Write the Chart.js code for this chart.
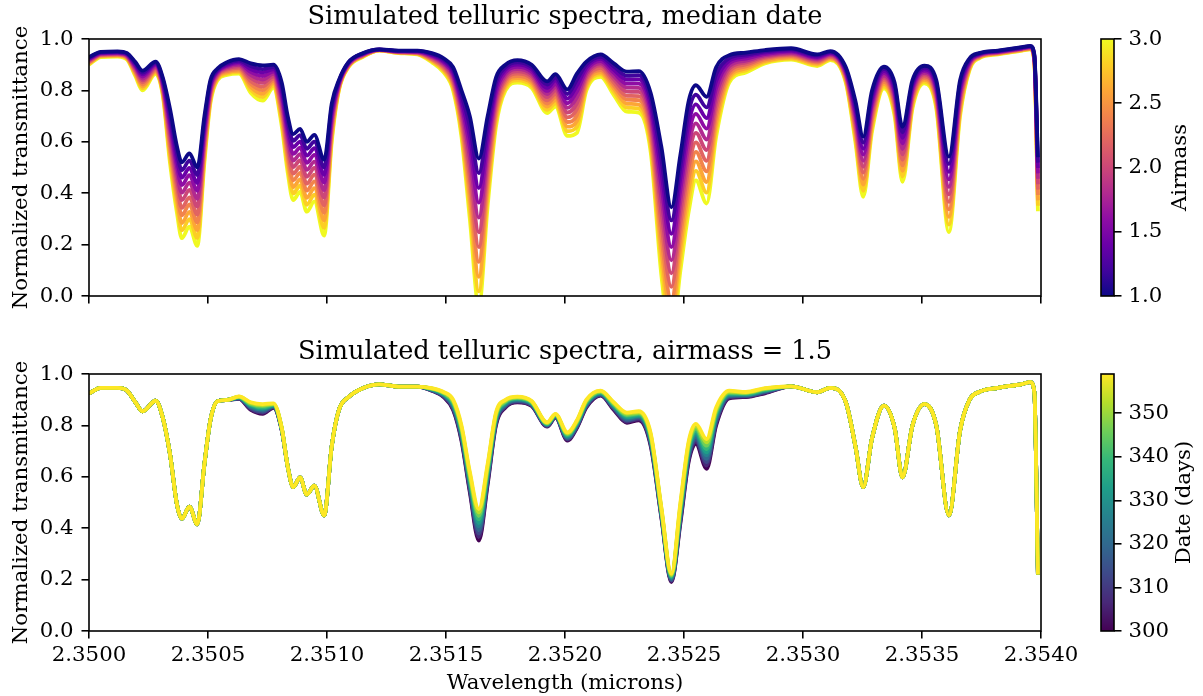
<!DOCTYPE html>
<html><head><meta charset="utf-8">
<script src="https://cdn.jsdelivr.net/npm/chart.js@4/dist/chart.umd.min.js"></script>
<style>
html,body{margin:0;padding:0;background:#fff;width:1203px;height:696px;overflow:hidden;position:relative;}
canvas{position:absolute;}
</style></head><body>
<canvas id="c1" width="1100" height="317" style="left:0;top:0"></canvas>
<canvas id="c2" width="1100" height="361" style="left:0;top:335px"></canvas>
<canvas id="cb1" width="113" height="317" style="left:1090px;top:0"></canvas>
<canvas id="cb2" width="113" height="361" style="left:1090px;top:335px"></canvas>
<script>
// ---------- data ----------
const wavelength = [2.35,2.35005,2.35012,2.35016,2.350195,2.350225,2.35028,2.35031,2.35034,2.35037,
2.35039,2.350422,2.350455,2.350485,2.35051,2.35054,2.35058,2.35063,2.35068,2.35073,
2.350775,2.35081,2.350835,2.350858,2.350887,2.350915,2.350947,2.350988,2.35102,2.35105,
2.35109,2.35115,2.35122,2.3513,2.35138,2.35144,2.35149,2.35153,2.351565,2.3516,
2.351638,2.351675,2.35171,2.35175,2.3518,2.35186,2.351925,2.35196,2.35201,2.35205,
2.35209,2.35215,2.352205,2.35226,2.35231,2.35236,2.352405,2.352447,2.352485,2.35252,
2.35255,2.352595,2.352635,2.35269,2.35276,2.35284,2.35295,2.35306,2.353115,2.35318,
2.35322,2.353253,2.35329,2.35334,2.353385,2.353418,2.35346,2.35351,2.35356,2.353613,
2.35366,2.3537,2.35374,2.35382,2.35392,2.353955,2.353972,2.353987];

const airmass = [1.0,1.2,1.4,1.6,1.8,2.0,2.2,2.4,2.6,2.8,3.0];
const dates = [300,307,313,320,326,333,339,346,352,359];

const am10 = [0.93,0.95,0.952,0.945,0.91,0.877,0.912,0.85,0.73,0.58,0.52,0.555,0.5,0.7,0.84,0.885,0.91,0.922,0.905,0.897,0.9,0.83,0.7,0.63,0.65,0.6,0.627,0.53,0.75,0.84,0.91,0.945,0.96,0.955,0.955,0.945,0.925,0.89,0.8,0.7,0.535,0.7,0.85,0.9,0.918,0.9,0.835,0.863,0.804,0.865,0.912,0.94,0.905,0.873,0.875,0.79,0.58,0.345,0.55,0.76,0.82,0.775,0.89,0.937,0.947,0.957,0.964,0.94,0.953,0.89,0.76,0.62,0.8,0.892,0.83,0.658,0.84,0.896,0.84,0.542,0.84,0.925,0.945,0.955,0.968,0.973,0.94,0.54];
const am12 = [0.927,0.948,0.95,0.943,0.905,0.869,0.907,0.843,0.709,0.554,0.49,0.527,0.47,0.682,0.831,0.88,0.905,0.916,0.894,0.883,0.891,0.813,0.678,0.604,0.626,0.573,0.601,0.5,0.735,0.836,0.908,0.944,0.96,0.954,0.954,0.942,0.92,0.881,0.782,0.66,0.478,0.665,0.831,0.89,0.909,0.891,0.823,0.85,0.786,0.842,0.901,0.931,0.893,0.857,0.859,0.767,0.53,0.294,0.505,0.717,0.783,0.734,0.863,0.926,0.939,0.952,0.96,0.936,0.95,0.884,0.744,0.597,0.784,0.884,0.817,0.637,0.829,0.889,0.829,0.513,0.826,0.921,0.943,0.954,0.967,0.972,0.937,0.519];
const am14 = [0.924,0.946,0.948,0.94,0.899,0.862,0.902,0.836,0.688,0.528,0.461,0.498,0.439,0.664,0.822,0.876,0.9,0.911,0.882,0.87,0.882,0.796,0.656,0.579,0.601,0.546,0.575,0.471,0.72,0.832,0.906,0.942,0.959,0.953,0.952,0.938,0.914,0.872,0.764,0.62,0.42,0.63,0.812,0.88,0.9,0.882,0.81,0.838,0.768,0.819,0.89,0.923,0.88,0.842,0.843,0.744,0.48,0.242,0.46,0.674,0.746,0.692,0.836,0.916,0.932,0.947,0.955,0.931,0.946,0.878,0.728,0.573,0.768,0.875,0.804,0.615,0.818,0.882,0.818,0.483,0.812,0.916,0.941,0.952,0.965,0.97,0.934,0.498];
const am16 = [0.921,0.944,0.946,0.938,0.894,0.854,0.898,0.829,0.667,0.502,0.432,0.47,0.409,0.646,0.813,0.872,0.895,0.905,0.871,0.856,0.873,0.779,0.634,0.553,0.577,0.518,0.549,0.442,0.705,0.828,0.904,0.941,0.959,0.952,0.951,0.935,0.909,0.863,0.746,0.58,0.363,0.595,0.793,0.87,0.892,0.873,0.798,0.825,0.75,0.796,0.878,0.914,0.868,0.826,0.826,0.721,0.43,0.19,0.415,0.631,0.709,0.651,0.809,0.905,0.924,0.941,0.951,0.927,0.943,0.872,0.712,0.55,0.752,0.867,0.791,0.594,0.807,0.875,0.807,0.454,0.798,0.912,0.939,0.951,0.964,0.969,0.931,0.477];
const am18 = [0.918,0.942,0.944,0.935,0.888,0.846,0.893,0.822,0.646,0.476,0.402,0.441,0.378,0.628,0.804,0.867,0.89,0.899,0.859,0.842,0.864,0.762,0.612,0.527,0.552,0.491,0.523,0.412,0.69,0.824,0.902,0.939,0.958,0.951,0.949,0.931,0.903,0.854,0.728,0.54,0.305,0.56,0.774,0.86,0.883,0.864,0.786,0.813,0.732,0.773,0.867,0.905,0.856,0.811,0.81,0.698,0.38,0.139,0.37,0.588,0.672,0.609,0.782,0.894,0.916,0.936,0.946,0.922,0.939,0.866,0.696,0.526,0.736,0.858,0.778,0.572,0.796,0.868,0.796,0.425,0.784,0.907,0.937,0.949,0.963,0.968,0.928,0.456];
const am20 = [0.915,0.94,0.942,0.933,0.883,0.839,0.888,0.815,0.625,0.45,0.373,0.413,0.348,0.61,0.795,0.863,0.885,0.894,0.848,0.829,0.855,0.745,0.59,0.502,0.528,0.464,0.498,0.383,0.675,0.82,0.9,0.938,0.958,0.95,0.948,0.928,0.898,0.845,0.71,0.5,0.248,0.525,0.755,0.85,0.874,0.855,0.774,0.8,0.714,0.75,0.856,0.897,0.844,0.795,0.794,0.675,0.33,0.088,0.325,0.545,0.635,0.568,0.755,0.884,0.909,0.931,0.942,0.918,0.936,0.86,0.68,0.503,0.72,0.85,0.765,0.551,0.785,0.862,0.785,0.396,0.77,0.903,0.935,0.948,0.962,0.967,0.925,0.435];
const am22 = [0.912,0.938,0.94,0.93,0.877,0.831,0.883,0.808,0.604,0.424,0.343,0.384,0.317,0.592,0.786,0.858,0.88,0.888,0.836,0.815,0.846,0.728,0.568,0.476,0.503,0.437,0.472,0.353,0.66,0.816,0.898,0.936,0.957,0.949,0.946,0.924,0.892,0.836,0.692,0.46,0.19,0.49,0.736,0.84,0.865,0.846,0.761,0.787,0.695,0.727,0.845,0.888,0.831,0.779,0.778,0.652,0.28,0.036,0.28,0.502,0.598,0.526,0.728,0.873,0.901,0.926,0.938,0.913,0.932,0.854,0.664,0.48,0.704,0.842,0.752,0.53,0.774,0.855,0.774,0.366,0.756,0.898,0.933,0.946,0.96,0.965,0.922,0.414];
const am24 = [0.909,0.936,0.938,0.928,0.872,0.823,0.878,0.801,0.583,0.398,0.314,0.356,0.287,0.574,0.777,0.854,0.875,0.882,0.825,0.801,0.837,0.711,0.546,0.45,0.479,0.41,0.446,0.324,0.645,0.812,0.896,0.935,0.957,0.948,0.945,0.921,0.887,0.827,0.674,0.42,0.133,0.455,0.717,0.83,0.856,0.837,0.749,0.775,0.677,0.704,0.834,0.879,0.819,0.764,0.762,0.629,0.23,-0.016,0.235,0.459,0.561,0.485,0.701,0.862,0.893,0.921,0.933,0.909,0.929,0.848,0.648,0.456,0.688,0.833,0.739,0.508,0.763,0.848,0.763,0.337,0.742,0.894,0.931,0.945,0.959,0.964,0.919,0.393];
const am26 = [0.906,0.934,0.936,0.925,0.866,0.815,0.874,0.794,0.562,0.372,0.284,0.327,0.256,0.556,0.768,0.849,0.87,0.876,0.813,0.787,0.828,0.694,0.524,0.424,0.454,0.382,0.42,0.294,0.63,0.808,0.894,0.933,0.956,0.947,0.943,0.917,0.881,0.818,0.656,0.38,0.075,0.42,0.698,0.82,0.848,0.828,0.737,0.762,0.659,0.681,0.822,0.87,0.807,0.748,0.745,0.606,0.18,-0.067,0.19,0.416,0.524,0.443,0.674,0.851,0.885,0.915,0.929,0.904,0.925,0.842,0.632,0.433,0.672,0.825,0.726,0.487,0.752,0.841,0.752,0.308,0.728,0.889,0.929,0.943,0.958,0.963,0.916,0.372];
const am28 = [0.903,0.932,0.934,0.923,0.861,0.808,0.869,0.787,0.541,0.346,0.255,0.299,0.226,0.538,0.759,0.845,0.865,0.871,0.802,0.774,0.819,0.677,0.502,0.399,0.43,0.355,0.394,0.265,0.615,0.804,0.892,0.932,0.956,0.946,0.942,0.914,0.876,0.809,0.638,0.34,0.018,0.385,0.679,0.81,0.839,0.819,0.724,0.75,0.641,0.658,0.811,0.862,0.794,0.733,0.729,0.583,0.13,-0.119,0.145,0.373,0.487,0.402,0.647,0.841,0.878,0.91,0.924,0.9,0.922,0.836,0.616,0.409,0.656,0.816,0.713,0.465,0.741,0.834,0.741,0.278,0.714,0.885,0.927,0.942,0.956,0.961,0.913,0.351];
const am30 = [0.9,0.93,0.932,0.92,0.855,0.8,0.864,0.78,0.52,0.32,0.225,0.27,0.195,0.52,0.75,0.84,0.86,0.865,0.79,0.76,0.81,0.66,0.48,0.373,0.405,0.328,0.368,0.235,0.6,0.8,0.89,0.93,0.955,0.945,0.94,0.91,0.87,0.8,0.62,0.3,-0.04,0.35,0.66,0.8,0.83,0.81,0.712,0.737,0.623,0.635,0.8,0.853,0.782,0.717,0.713,0.56,0.08,-0.17,0.1,0.33,0.45,0.36,0.62,0.83,0.87,0.905,0.92,0.895,0.918,0.83,0.6,0.386,0.64,0.808,0.7,0.444,0.73,0.827,0.73,0.249,0.7,0.88,0.925,0.94,0.955,0.96,0.91,0.33];

const d300 = [0.925,0.946,0.946,0.935,0.89,0.855,0.896,0.83,0.69,0.49,0.437,0.484,0.415,0.65,0.82,0.894,0.899,0.903,0.86,0.845,0.868,0.78,0.64,0.56,0.598,0.531,0.566,0.45,0.72,0.86,0.91,0.945,0.96,0.951,0.951,0.935,0.91,0.86,0.74,0.54,0.352,0.57,0.8,0.87,0.89,0.875,0.795,0.83,0.741,0.79,0.87,0.916,0.86,0.81,0.82,0.72,0.44,0.19,0.42,0.66,0.728,0.631,0.8,0.905,0.91,0.925,0.952,0.929,0.946,0.89,0.72,0.56,0.75,0.877,0.79,0.598,0.8,0.883,0.8,0.45,0.78,0.9,0.93,0.946,0.961,0.968,0.93,0.22];
const d307 = [0.925,0.946,0.946,0.935,0.89,0.855,0.896,0.83,0.69,0.49,0.437,0.484,0.415,0.65,0.82,0.894,0.899,0.904,0.863,0.849,0.87,0.781,0.64,0.56,0.598,0.531,0.566,0.45,0.72,0.86,0.91,0.945,0.96,0.951,0.951,0.936,0.912,0.864,0.747,0.549,0.366,0.579,0.806,0.873,0.892,0.877,0.797,0.832,0.745,0.793,0.873,0.918,0.863,0.814,0.824,0.726,0.444,0.194,0.429,0.669,0.737,0.644,0.808,0.908,0.912,0.927,0.952,0.929,0.946,0.89,0.72,0.56,0.75,0.877,0.79,0.598,0.8,0.883,0.8,0.45,0.78,0.9,0.93,0.946,0.961,0.968,0.93,0.22];
const d313 = [0.925,0.946,0.946,0.935,0.89,0.855,0.896,0.83,0.69,0.49,0.437,0.484,0.415,0.65,0.82,0.894,0.899,0.905,0.867,0.853,0.872,0.782,0.64,0.56,0.598,0.531,0.566,0.45,0.72,0.86,0.91,0.945,0.96,0.951,0.951,0.937,0.914,0.869,0.753,0.558,0.379,0.588,0.811,0.877,0.895,0.879,0.799,0.833,0.748,0.797,0.877,0.92,0.867,0.819,0.828,0.731,0.449,0.197,0.438,0.678,0.745,0.657,0.816,0.912,0.914,0.929,0.952,0.929,0.946,0.89,0.72,0.56,0.75,0.877,0.79,0.598,0.8,0.883,0.8,0.45,0.78,0.9,0.93,0.946,0.961,0.968,0.93,0.22];
const d320 = [0.925,0.946,0.946,0.935,0.89,0.855,0.896,0.83,0.69,0.49,0.437,0.484,0.415,0.65,0.82,0.894,0.899,0.906,0.87,0.858,0.874,0.783,0.64,0.56,0.598,0.531,0.566,0.45,0.72,0.86,0.91,0.945,0.96,0.951,0.951,0.938,0.917,0.873,0.76,0.567,0.393,0.597,0.817,0.88,0.897,0.882,0.801,0.835,0.752,0.8,0.88,0.922,0.87,0.823,0.832,0.737,0.453,0.201,0.447,0.687,0.754,0.67,0.823,0.915,0.917,0.932,0.952,0.929,0.946,0.89,0.72,0.56,0.75,0.877,0.79,0.598,0.8,0.883,0.8,0.45,0.78,0.9,0.93,0.946,0.961,0.968,0.93,0.22];
const d326 = [0.925,0.946,0.946,0.935,0.89,0.855,0.896,0.83,0.69,0.49,0.437,0.484,0.415,0.65,0.82,0.894,0.899,0.907,0.873,0.862,0.876,0.784,0.64,0.56,0.598,0.531,0.566,0.45,0.72,0.86,0.91,0.945,0.96,0.951,0.951,0.939,0.919,0.878,0.767,0.576,0.407,0.606,0.822,0.883,0.9,0.884,0.803,0.837,0.755,0.803,0.883,0.924,0.873,0.828,0.836,0.742,0.458,0.205,0.456,0.696,0.763,0.683,0.831,0.918,0.919,0.934,0.952,0.929,0.946,0.89,0.72,0.56,0.75,0.877,0.79,0.598,0.8,0.883,0.8,0.45,0.78,0.9,0.93,0.946,0.961,0.968,0.93,0.22];
const d333 = [0.925,0.946,0.946,0.935,0.89,0.855,0.896,0.83,0.69,0.49,0.437,0.484,0.415,0.65,0.82,0.894,0.899,0.909,0.877,0.866,0.878,0.786,0.64,0.56,0.598,0.531,0.566,0.45,0.72,0.86,0.91,0.945,0.96,0.951,0.951,0.941,0.921,0.882,0.773,0.584,0.42,0.614,0.828,0.887,0.902,0.886,0.804,0.838,0.759,0.807,0.887,0.927,0.877,0.832,0.839,0.748,0.462,0.208,0.464,0.704,0.771,0.695,0.839,0.922,0.921,0.936,0.952,0.929,0.946,0.89,0.72,0.56,0.75,0.877,0.79,0.598,0.8,0.883,0.8,0.45,0.78,0.9,0.93,0.946,0.961,0.968,0.93,0.22];
const d339 = [0.925,0.946,0.946,0.935,0.89,0.855,0.896,0.83,0.69,0.49,0.437,0.484,0.415,0.65,0.82,0.894,0.899,0.91,0.88,0.87,0.88,0.787,0.64,0.56,0.598,0.531,0.566,0.45,0.72,0.86,0.91,0.945,0.96,0.951,0.951,0.942,0.923,0.887,0.78,0.593,0.434,0.623,0.833,0.89,0.905,0.888,0.806,0.84,0.762,0.81,0.89,0.929,0.88,0.837,0.843,0.753,0.467,0.212,0.473,0.713,0.78,0.708,0.847,0.925,0.923,0.938,0.952,0.929,0.946,0.89,0.72,0.56,0.75,0.877,0.79,0.598,0.8,0.883,0.8,0.45,0.78,0.9,0.93,0.946,0.961,0.968,0.93,0.22];
const d346 = [0.925,0.946,0.946,0.935,0.89,0.855,0.896,0.83,0.69,0.49,0.437,0.484,0.415,0.65,0.82,0.894,0.899,0.911,0.883,0.875,0.882,0.788,0.64,0.56,0.598,0.531,0.566,0.45,0.72,0.86,0.91,0.945,0.96,0.951,0.951,0.943,0.926,0.891,0.787,0.602,0.448,0.632,0.839,0.893,0.907,0.891,0.808,0.842,0.766,0.813,0.893,0.931,0.883,0.841,0.847,0.759,0.471,0.216,0.482,0.722,0.789,0.721,0.854,0.928,0.926,0.941,0.952,0.929,0.946,0.89,0.72,0.56,0.75,0.877,0.79,0.598,0.8,0.883,0.8,0.45,0.78,0.9,0.93,0.946,0.961,0.968,0.93,0.22];
const d352 = [0.925,0.946,0.946,0.935,0.89,0.855,0.896,0.83,0.69,0.49,0.437,0.484,0.415,0.65,0.82,0.894,0.899,0.912,0.887,0.879,0.884,0.789,0.64,0.56,0.598,0.531,0.566,0.45,0.72,0.86,0.91,0.945,0.96,0.951,0.951,0.944,0.928,0.896,0.793,0.611,0.461,0.641,0.844,0.897,0.91,0.893,0.81,0.843,0.769,0.817,0.897,0.933,0.887,0.846,0.851,0.764,0.476,0.219,0.491,0.731,0.797,0.734,0.862,0.932,0.928,0.943,0.952,0.929,0.946,0.89,0.72,0.56,0.75,0.877,0.79,0.598,0.8,0.883,0.8,0.45,0.78,0.9,0.93,0.946,0.961,0.968,0.93,0.22];
const d359 = [0.925,0.946,0.946,0.935,0.89,0.855,0.896,0.83,0.69,0.49,0.437,0.484,0.415,0.65,0.82,0.894,0.899,0.913,0.89,0.883,0.886,0.79,0.64,0.56,0.598,0.531,0.566,0.45,0.72,0.86,0.91,0.945,0.96,0.951,0.951,0.945,0.93,0.9,0.8,0.62,0.475,0.65,0.85,0.9,0.912,0.895,0.812,0.845,0.773,0.82,0.9,0.935,0.89,0.85,0.855,0.77,0.48,0.223,0.5,0.74,0.806,0.747,0.87,0.935,0.93,0.945,0.952,0.929,0.946,0.89,0.72,0.56,0.75,0.877,0.79,0.598,0.8,0.883,0.8,0.45,0.78,0.9,0.93,0.946,0.961,0.968,0.93,0.22];

const xTicks = [2.35,2.3505,2.351,2.3515,2.352,2.3525,2.353,2.3535,2.354];
const yTicks = [0,0.2,0.4,0.6,0.8,1.0];
const airmassTicks = [1.0,1.5,2.0,2.5,3.0];
const dateTicks = [300,310,320,330,340,350];
const dateRange = [300,359];

// ---------- styles ----------
const FONT = "'DejaVu Serif', 'Liberation Serif', serif";
Chart.defaults.font.family = FONT;
Chart.defaults.color = '#000';
const plasma = ['#0d0887','#41049d','#6a00a8','#8f0da4','#b12a90','#cc4778','#e16462','#f2844b','#fca636','#fcce25','#f0f921'];
const viridis = ['#440154','#482878','#3e4989','#31688e','#26828e','#1f9e89','#35b779','#6ece58','#b5de2b','#fde725'];
const TICK = 21.3, LW = 1.6, TL = 7.5, LINE = 3.8;

const frame = {
  id: 'frame',
  afterDatasetsDraw(chart) {
    const a = chart.chartArea, ctx = chart.ctx;
    ctx.save(); ctx.strokeStyle = '#000'; ctx.lineWidth = LW;
    ctx.strokeRect(a.left, a.top, a.right - a.left, a.bottom - a.top);
    ctx.restore();
  }
};

function mainChart(id, title, series, colors, showX, xHeight) {
  const datasets = series.map((s, i) => ({
    data: wavelength.map((w, j) => ({x: w, y: s[j]})),
    borderColor: colors[i], borderWidth: LINE, pointRadius: 0, fill: false,
    cubicInterpolationMode: 'monotone', borderJoinStyle: 'round', borderCapStyle: 'butt', clip: 0
  }));
  const gridOpt = {display: true, drawOnChartArea: false, drawTicks: true, tickLength: TL,
    color: '#000', tickColor: '#000', lineWidth: LW, tickWidth: LW};
  return new Chart(document.getElementById(id), {
    type: 'line',
    data: {datasets},
    options: {
      responsive: false, animation: false, devicePixelRatio: 1,
      layout: {padding: {left: 0, right: 59, top: 0, bottom: 0}},
      plugins: {
        legend: {display: false}, tooltip: {enabled: false},
        title: {display: true, text: title, fullSize: false, color: '#000',
          font: {family: FONT, size: 25.6, weight: 'normal', lineHeight: 1.2},
          padding: {top: 2, bottom: 6.28}}
      },
      scales: {
        x: {type: 'linear', min: xTicks[0], max: xTicks[xTicks.length - 1],
          afterBuildTicks: s => { s.ticks = xTicks.map(v => ({value: v})); },
          ticks: {display: showX, callback: v => Number(v).toFixed(4), font: {size: TICK},
            color: '#000', padding: 4.5, maxRotation: 0, autoSkip: false},
          grid: gridOpt, border: {display: false},
          title: {display: showX, text: 'Wavelength (microns)', color: '#000',
            font: {size: TICK}, padding: {top: 0, bottom: 0}},
          afterFit: s => { s.height = xHeight; }},
        y: {type: 'linear', min: 0, max: 1,
          afterBuildTicks: s => { s.ticks = yTicks.map(v => ({value: v})); },
          ticks: {callback: v => Number(v).toFixed(1), font: {size: TICK}, color: '#000', padding: 8},
          grid: gridOpt, border: {display: false},
          title: {display: true, text: 'Normalized transmittance', color: '#000',
            font: {size: TICK}, padding: {top: 8.5, bottom: 0}},
          afterFit: s => { s.width = 89; }}
      }
    },
    plugins: [frame]
  });
}

function colorbar(id, range, ticks, fmt, colors, label, labelX, bottomPad) {
  const labelPlugin = {
    id: 'cblabel',
    afterDraw(chart) {
      const a = chart.chartArea, ctx = chart.ctx;
      ctx.save();
      ctx.translate(labelX, (a.top + a.bottom) / 2);
      ctx.rotate(-Math.PI / 2);
      ctx.font = TICK + 'px ' + FONT;
      ctx.fillStyle = '#000'; ctx.textAlign = 'center'; ctx.textBaseline = 'middle';
      ctx.fillText(label, 0, 0);
      ctx.restore();
    }
  };
  return new Chart(document.getElementById(id), {
    type: 'bar',
    data: {labels: [''], datasets: [{
      data: [[range[0], range[1]]],
      backgroundColor: (ctx) => {
        const a = ctx.chart.chartArea;
        if (!a) return colors[0];
        const g = ctx.chart.ctx.createLinearGradient(0, a.bottom, 0, a.top);
        colors.forEach((c, i) => g.addColorStop(i / (colors.length - 1), c));
        return g;
      },
      borderWidth: 0, barPercentage: 1, categoryPercentage: 1
    }]},
    options: {
      responsive: false, animation: false, devicePixelRatio: 1,
      layout: {padding: {left: 11, right: 0, top: 39, bottom: bottomPad}},
      plugins: {legend: {display: false}, tooltip: {enabled: false}},
      scales: {
        x: {display: false},
        y: {position: 'right', min: range[0], max: range[1],
          afterBuildTicks: s => { s.ticks = ticks.map(v => ({value: v})); },
          ticks: {callback: fmt, font: {size: TICK}, color: '#000', padding: 7},
          grid: {display: true, drawOnChartArea: false, drawTicks: true, tickLength: TL,
            color: '#000', tickColor: '#000', lineWidth: LW, tickWidth: LW},
          border: {display: false},
          afterFit: s => { s.width = 89; }}
      }
    },
    plugins: [frame, labelPlugin]
  });
}

mainChart('c1', 'Simulated telluric spectra, median date',
  [am10, am12, am14, am16, am18, am20, am22, am24, am26, am28, am30], plasma, false, 21);
mainChart('c2', 'Simulated telluric spectra, airmass = 1.5',
  [d359, d352, d346, d339, d333, d326, d320, d313, d307, d300], viridis.slice().reverse(), true, 65);
colorbar('cb1', [airmass[0], airmass[airmass.length - 1]], airmassTicks, v => Number(v).toFixed(1), plasma, 'Airmass', 90.5, 21);
colorbar('cb2', dateRange, dateTicks, v => String(v), viridis, 'Date (days)', 94.5, 65);
</script>
</body></html>
